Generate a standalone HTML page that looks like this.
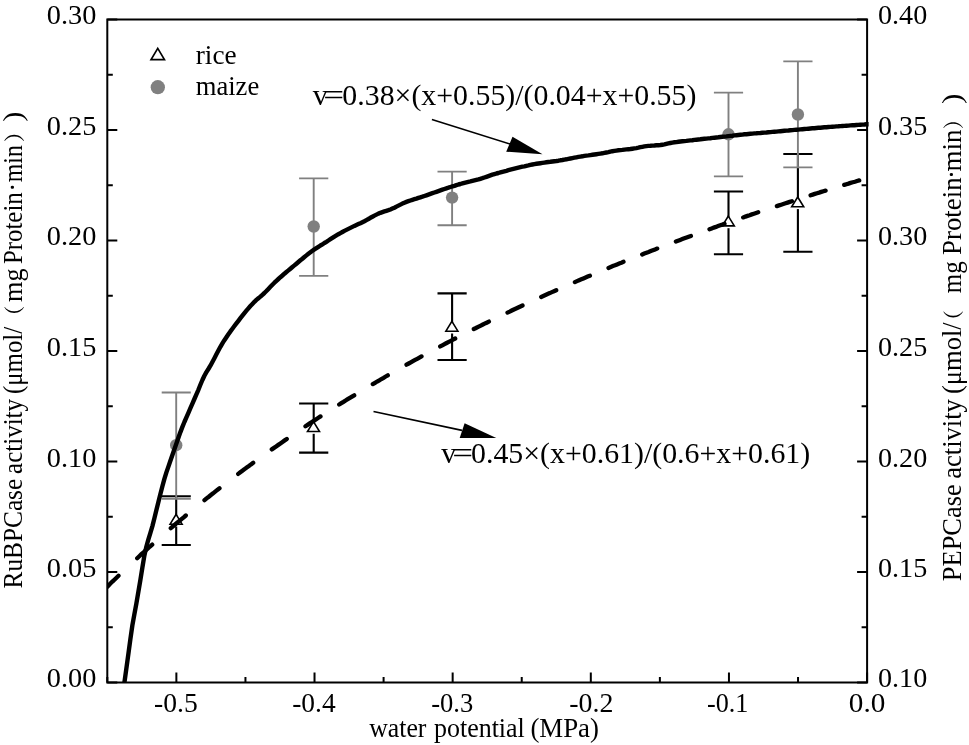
<!DOCTYPE html>
<html lang="en"><head><meta charset="utf-8"><title>Enzyme activity vs water potential</title>
<style>html,body{margin:0;padding:0;background:#fff}body{width:969px;height:745px;overflow:hidden}svg{display:block}text{font-family:"Liberation Serif","Noto Serif CJK SC",serif;fill:#000;font-kerning:none}</style>
</head><body>
<svg width="969" height="745" viewBox="0 0 969 745">
<rect width="969" height="745" fill="#fff"/>
<g stroke="#000" stroke-width="2.1" fill="none">
<path d="M176.2 496.2V545.0M161.7 496.2H190.8M161.7 545.0H190.8"/>
<path d="M313.7 403.5V452.6M299.1 403.5H328.3M299.1 452.6H328.3"/>
<path d="M452.1 293.4V360.0M437.5 293.4H466.7M437.5 360.0H466.7"/>
<path d="M728.5 191.5V254.3M713.9 191.5H743.1M713.9 254.3H743.1"/>
<path d="M797.9 154.0V251.8M783.3 154.0H812.5M783.3 251.8H812.5"/>
</g>
<rect x="172.2" y="516.9" width="8" height="9.6" fill="#fff"/>
<path d="M176.1 514.4 L182.1 524.2 L170.1 524.2 Z" fill="#fff" stroke="#000" stroke-width="1.6" stroke-linejoin="miter"/>
<rect x="309.7" y="424.2" width="8" height="9.6" fill="#fff"/>
<path d="M313.5 421.7 L319.5 431.5 L307.5 431.5 Z" fill="#fff" stroke="#000" stroke-width="1.6" stroke-linejoin="miter"/>
<rect x="448.1" y="323.9" width="8" height="9.6" fill="#fff"/>
<path d="M451.9 321.4 L457.9 331.2 L445.9 331.2 Z" fill="#fff" stroke="#000" stroke-width="1.6" stroke-linejoin="miter"/>
<rect x="724.5" y="218.6" width="8" height="9.6" fill="#fff"/>
<path d="M728.3 216.1 L734.3 225.9 L722.3 225.9 Z" fill="#fff" stroke="#000" stroke-width="1.6" stroke-linejoin="miter"/>
<rect x="793.9" y="199.5" width="8" height="9.6" fill="#fff"/>
<path d="M797.7 197.0 L803.7 206.8 L791.7 206.8 Z" fill="#fff" stroke="#000" stroke-width="1.6" stroke-linejoin="miter"/>
<g stroke="#808080" stroke-width="1.9" fill="none">
<path d="M176.2 392.5V498.8M161.7 392.5H190.8M161.7 498.8H190.8"/>
<path d="M313.7 178.4V275.9M299.1 178.4H328.3M299.1 275.9H328.3"/>
<path d="M452.1 171.6V225.2M437.5 171.6H466.7M437.5 225.2H466.7"/>
<path d="M728.5 92.6V176.4M713.9 92.6H743.1M713.9 176.4H743.1"/>
<path d="M797.9 61.4V167.4M783.3 61.4H812.5M783.3 167.4H812.5"/>
</g>
<circle cx="176.2" cy="445.2" r="6.2" fill="#808080"/>
<circle cx="313.7" cy="226.5" r="6.2" fill="#808080"/>
<circle cx="452.1" cy="197.6" r="6.2" fill="#808080"/>
<circle cx="728.5" cy="134.3" r="6.2" fill="#808080"/>
<circle cx="797.9" cy="114.5" r="6.2" fill="#808080"/>
<path d="M124.4 682.6 L126.4 668.2 L128.4 653.8 L130.4 639.0 L132.4 625.1 L134.4 614.1 L136.4 603.3 L138.4 591.7 L140.4 579.9 L142.4 567.4 L144.4 555.4 L146.4 546.5 L148.4 539.4 L150.4 532.9 L152.4 526.1 L154.4 518.3 L156.4 510.1 L158.4 501.9 L160.4 494.0 L162.4 486.2 L164.4 478.9 L166.4 472.4 L168.4 466.6 L170.4 460.8 L172.4 455.0 L174.4 449.3 L176.4 443.6 L178.4 437.7 L180.4 432.1 L182.4 426.9 L184.4 422.0 L186.4 417.4 L188.4 412.8 L190.4 408.2 L192.4 403.6 L194.4 399.0 L196.4 394.4 L198.4 389.8 L200.4 384.8 L202.4 380.0 L204.4 375.7 L206.4 372.1 L208.4 369.0 L210.4 365.7 L212.4 362.0 L214.4 358.2 L216.4 354.3 L218.4 350.5 L220.4 346.8 L222.4 343.4 L224.4 340.2 L226.4 337.2 L228.4 334.3 L230.4 331.4 L232.4 328.7 L234.4 326.0 L236.4 323.4 L238.4 320.8 L240.4 318.2 L242.4 315.6 L244.4 313.1 L246.4 310.7 L248.4 308.3 L250.4 306.0 L252.4 303.9 L254.4 301.8 L256.4 299.9 L258.4 298.2 L260.4 296.6 L262.4 294.8 L264.4 293.0 L266.4 291.0 L268.4 288.9 L270.4 286.8 L272.4 284.7 L274.4 282.7 L276.4 280.8 L278.4 279.0 L280.4 277.2 L282.4 275.5 L284.4 273.7 L286.4 272.0 L288.4 270.4 L290.4 268.7 L292.4 267.0 L294.4 265.4 L296.4 263.7 L298.4 262.0 L300.4 260.3 L302.4 258.7 L304.4 257.0 L306.4 255.4 L308.4 253.8 L310.4 252.3 L312.4 250.8 L314.4 249.4 L316.4 248.1 L318.4 246.8 L320.4 245.5 L322.4 244.3 L324.4 243.0 L326.4 241.8 L328.4 240.5 L330.4 239.2 L332.4 237.9 L334.4 236.6 L336.4 235.4 L338.4 234.2 L340.4 233.1 L342.4 232.0 L344.4 230.9 L346.4 229.9 L348.4 228.9 L350.4 227.9 L352.4 226.9 L354.4 225.9 L356.4 225.0 L358.4 224.1 L360.4 223.2 L362.4 222.2 L364.4 221.2 L366.4 220.1 L368.4 219.0 L370.4 217.8 L372.4 216.7 L374.4 215.6 L376.4 214.6 L378.4 213.6 L380.4 212.8 L382.4 212.1 L384.4 211.4 L386.4 210.8 L388.4 210.2 L390.4 209.5 L392.4 208.6 L394.4 207.7 L396.4 206.6 L398.4 205.6 L400.4 204.6 L402.4 203.6 L404.4 202.7 L406.4 201.9 L408.4 201.2 L410.4 200.5 L412.4 199.8 L414.4 199.2 L416.4 198.6 L418.4 197.9 L420.4 197.3 L422.4 196.7 L424.4 196.0 L426.4 195.3 L428.4 194.6 L430.4 193.9 L432.4 193.2 L434.4 192.5 L436.4 191.8 L438.4 191.1 L440.4 190.4 L442.4 189.7 L444.4 189.0 L446.4 188.3 L448.4 187.7 L450.4 187.0 L452.4 186.4 L454.4 185.8 L456.4 185.1 L458.4 184.5 L460.4 184.0 L462.4 183.4 L464.4 182.8 L466.4 182.3 L468.4 181.8 L470.4 181.4 L472.4 180.9 L474.4 180.4 L476.4 179.9 L478.4 179.4 L480.4 178.8 L482.4 178.2 L484.4 177.5 L486.4 176.8 L488.4 176.1 L490.4 175.4 L492.4 174.7 L494.4 174.1 L496.4 173.5 L498.4 173.0 L500.4 172.4 L502.4 171.8 L504.4 171.3 L506.4 170.8 L508.4 170.2 L510.4 169.7 L512.4 169.2 L514.4 168.7 L516.4 168.2 L518.4 167.7 L520.4 167.2 L522.4 166.7 L524.4 166.3 L526.4 165.8 L528.4 165.4 L530.4 164.9 L532.4 164.5 L534.4 164.1 L536.4 163.8 L538.4 163.5 L540.4 163.2 L542.4 162.9 L544.4 162.6 L546.4 162.3 L548.4 162.0 L550.4 161.8 L552.4 161.5 L554.4 161.2 L556.4 161.0 L558.4 160.7 L560.4 160.3 L562.4 160.0 L564.4 159.6 L566.4 159.3 L568.4 158.9 L570.4 158.5 L572.4 158.1 L574.4 157.7 L576.4 157.3 L578.4 156.9 L580.4 156.6 L582.4 156.3 L584.4 155.9 L586.4 155.6 L588.4 155.4 L590.4 155.1 L592.4 154.8 L594.4 154.5 L596.4 154.2 L598.4 153.9 L600.4 153.6 L602.4 153.3 L604.4 152.9 L606.4 152.5 L608.4 152.1 L610.4 151.6 L612.4 151.2 L614.4 150.9 L616.4 150.6 L618.4 150.3 L620.4 150.1 L622.4 149.9 L624.4 149.6 L626.4 149.4 L628.4 149.2 L630.4 149.0 L632.4 148.7 L634.4 148.4 L636.4 148.1 L638.4 147.7 L640.4 147.2 L642.4 146.8 L644.4 146.4 L646.4 146.1 L648.4 145.9 L650.4 145.8 L652.4 145.6 L654.4 145.5 L656.4 145.3 L658.4 145.2 L660.4 145.0 L662.4 144.7 L664.4 144.4 L666.4 143.9 L668.4 143.4 L670.4 143.0 L672.4 142.6 L674.4 142.3 L676.4 142.1 L678.4 141.8 L680.4 141.5 L682.4 141.3 L684.4 141.1 L686.4 140.9 L688.4 140.6 L690.4 140.4 L692.4 140.2 L694.4 139.9 L696.4 139.7 L698.4 139.5 L700.4 139.3 L702.4 139.0 L704.4 138.8 L706.4 138.6 L708.4 138.4 L710.4 138.2 L712.4 137.9 L714.4 137.7 L716.4 137.5 L718.4 137.3 L720.4 137.0 L722.4 136.8 L724.4 136.6 L726.4 136.4 L728.4 136.1 L730.4 135.9 L732.4 135.7 L734.4 135.4 L736.4 135.2 L738.4 135.0 L740.4 134.8 L742.4 134.6 L744.4 134.3 L746.4 134.2 L748.4 134.0 L750.4 133.8 L752.4 133.6 L754.4 133.4 L756.4 133.3 L758.4 133.1 L760.4 133.0 L762.4 132.8 L764.4 132.6 L766.4 132.5 L768.4 132.3 L770.4 132.1 L772.4 131.9 L774.4 131.7 L776.4 131.6 L778.4 131.4 L780.4 131.2 L782.4 131.0 L784.4 130.8 L786.4 130.6 L788.4 130.5 L790.4 130.3 L792.4 130.1 L794.4 129.9 L796.4 129.7 L798.4 129.6 L800.4 129.4 L802.4 129.2 L804.4 129.0 L806.4 128.9 L808.4 128.7 L810.4 128.5 L812.4 128.3 L814.4 128.2 L816.4 128.0 L818.4 127.8 L820.4 127.7 L822.4 127.5 L824.4 127.3 L826.4 127.2 L828.4 127.0 L830.4 126.9 L832.4 126.7 L834.4 126.6 L836.4 126.4 L838.4 126.3 L840.4 126.1 L842.4 126.0 L844.4 125.9 L846.4 125.7 L848.4 125.6 L850.4 125.4 L852.4 125.3 L854.4 125.2 L856.4 125.0 L858.4 124.9 L860.4 124.7 L862.4 124.6 L864.4 124.5 L866.4 124.3 L868.4 124.2 L868.6 124.2" fill="none" stroke="#000" stroke-width="4.4" stroke-linejoin="round"/>
<clipPath id="pc"><rect x="107.3" y="19.5" width="761.8000000000001" height="663.1"/></clipPath>
<path d="M104.3 589.6 L106.3 587.6 L108.4 585.6 L110.4 583.6 L112.4 581.6 L114.4 579.7 L116.5 577.7 L118.5 575.8 M137.2 558.2 L139.3 556.2 L141.4 554.2 L143.6 552.3 L145.7 550.3 L147.9 548.4 L150.0 546.5 L152.2 544.6 M170.8 528.2 L173.0 526.3 L175.1 524.5 L177.2 522.7 L179.4 520.9 L181.5 519.1 L183.7 517.3 L185.8 515.5 M204.5 500.2 L206.6 498.4 L208.8 496.7 L210.9 495.0 L213.1 493.3 L215.2 491.6 L217.3 489.9 L219.5 488.3 M238.2 473.9 L240.3 472.3 L242.4 470.7 L244.6 469.1 L246.7 467.5 L248.9 466.0 L251.0 464.4 L253.2 462.8 M271.8 449.4 L274.0 447.9 L276.1 446.4 L278.3 444.9 L280.4 443.4 L282.5 441.9 L284.7 440.4 L286.8 438.9 M305.5 426.3 L307.6 424.9 L309.8 423.4 L311.9 422.0 L314.1 420.6 L316.2 419.2 L318.4 417.8 L320.5 416.4 M339.2 404.5 L341.3 403.2 L343.5 401.9 L345.6 400.5 L347.7 399.2 L349.9 397.9 L352.0 396.6 L354.2 395.3 M372.8 384.1 L375.0 382.8 L377.1 381.5 L379.3 380.3 L381.4 379.0 L383.6 377.8 L385.7 376.5 L387.8 375.3 M406.5 364.7 L408.7 363.5 L410.8 362.3 L412.9 361.1 L415.1 359.9 L417.2 358.8 L419.4 357.6 L421.5 356.4 M440.2 346.4 L442.3 345.3 L444.5 344.1 L446.6 343.0 L448.8 341.9 L450.9 340.8 L453.0 339.7 L455.2 338.5 M473.8 329.0 L476.0 328.0 L478.1 326.9 L480.3 325.8 L482.4 324.8 L484.6 323.7 L486.7 322.7 L488.9 321.6 M507.5 312.6 L509.7 311.6 L511.8 310.5 L513.9 309.5 L516.1 308.5 L518.2 307.5 L520.4 306.5 L522.5 305.5 M541.2 296.9 L543.3 296.0 L545.5 295.0 L547.6 294.0 L549.8 293.1 L551.9 292.1 L554.0 291.2 L556.2 290.2 M574.9 282.1 L577.0 281.1 L579.1 280.2 L581.3 279.3 L583.4 278.4 L585.6 277.5 L587.7 276.6 L589.9 275.7 M608.5 267.9 L610.7 267.0 L612.8 266.1 L615.0 265.3 L617.1 264.4 L619.2 263.5 L621.4 262.7 L623.5 261.8 M642.2 254.4 L644.3 253.5 L646.5 252.7 L648.6 251.9 L650.8 251.0 L652.9 250.2 L655.1 249.4 L657.2 248.6 M675.9 241.5 L678.0 240.7 L680.2 239.9 L682.3 239.1 L684.4 238.3 L686.6 237.5 L688.7 236.7 L690.9 235.9 M709.5 229.2 L711.7 228.4 L713.8 227.6 L716.0 226.9 L718.1 226.1 L720.3 225.3 L722.4 224.6 L724.5 223.8 M743.2 217.4 L745.4 216.6 L747.5 215.9 L749.6 215.2 L751.8 214.4 L753.9 213.7 L756.1 213.0 L758.2 212.3 M776.9 206.1 L779.0 205.4 L781.2 204.7 L783.3 204.0 L785.5 203.3 L787.6 202.6 L789.7 201.9 L791.9 201.2 M810.6 195.3 L812.7 194.6 L814.8 193.9 L817.0 193.2 L819.1 192.6 L821.3 191.9 L823.4 191.2 L825.6 190.6 M844.2 184.9 L846.4 184.2 L848.5 183.6 L850.6 182.9 L852.8 182.3 L854.9 181.7 L857.1 181.0 L859.2 180.4" fill="none" stroke="#000" stroke-width="4.3" stroke-linecap="round" clip-path="url(#pc)"/>
<g stroke="#000" stroke-width="2.0" fill="none" stroke-linecap="butt">
<path d="M107.3 18.5V682.6H867.1V19.5H106.3" stroke-linejoin="miter"/>
<path d="M107.3 682.60h10M867.1 682.60h-10M107.3 627.34h5.5M867.1 627.34h-5.5M107.3 572.08h10M867.1 572.08h-10M107.3 516.83h5.5M867.1 516.83h-5.5M107.3 461.57h10M867.1 461.57h-10M107.3 406.31h5.5M867.1 406.31h-5.5M107.3 351.05h10M867.1 351.05h-10M107.3 295.79h5.5M867.1 295.79h-5.5M107.3 240.53h10M867.1 240.53h-10M107.3 185.27h5.5M867.1 185.27h-5.5M107.3 130.02h10M867.1 130.02h-10M107.3 74.76h5.5M867.1 74.76h-5.5M107.3 19.50h10M867.1 19.50h-10M867.10 682.6v-10M798.03 682.6v-5.5M728.95 682.6v-10M659.88 682.6v-5.5M590.81 682.6v-10M521.74 682.6v-5.5M452.66 682.6v-10M383.59 682.6v-5.5M314.52 682.6v-10M245.45 682.6v-5.5M176.37 682.6v-10M107.30 682.6v-5.5"/>
</g>
<g font-size="26.5">
<text x="46.82" y="686.9" textLength="49.56" lengthAdjust="spacingAndGlyphs">0.00</text>
<text x="46.82" y="576.9" textLength="49.56" lengthAdjust="spacingAndGlyphs">0.05</text>
<text x="46.82" y="467.2" textLength="49.56" lengthAdjust="spacingAndGlyphs">0.10</text>
<text x="46.82" y="355.9" textLength="49.56" lengthAdjust="spacingAndGlyphs">0.15</text>
<text x="46.82" y="245.3" textLength="49.56" lengthAdjust="spacingAndGlyphs">0.20</text>
<text x="46.82" y="134.8" textLength="49.56" lengthAdjust="spacingAndGlyphs">0.25</text>
<text x="46.82" y="24.1" textLength="49.56" lengthAdjust="spacingAndGlyphs">0.30</text>
<text x="878.03" y="686.9" textLength="49.24" lengthAdjust="spacingAndGlyphs">0.10</text>
<text x="878.03" y="576.9" textLength="49.24" lengthAdjust="spacingAndGlyphs">0.15</text>
<text x="878.03" y="467.2" textLength="49.24" lengthAdjust="spacingAndGlyphs">0.20</text>
<text x="878.03" y="355.9" textLength="49.24" lengthAdjust="spacingAndGlyphs">0.25</text>
<text x="878.03" y="245.3" textLength="49.24" lengthAdjust="spacingAndGlyphs">0.30</text>
<text x="878.03" y="134.8" textLength="49.24" lengthAdjust="spacingAndGlyphs">0.35</text>
<text x="878.03" y="24.1" textLength="49.24" lengthAdjust="spacingAndGlyphs">0.40</text>
<text x="848.79" y="712.2" textLength="36.53" lengthAdjust="spacingAndGlyphs">0.0</text>
<text x="706.93" y="712.2" textLength="41.44" lengthAdjust="spacingAndGlyphs">-0.1</text>
<text x="569.16" y="712.2" textLength="44.18" lengthAdjust="spacingAndGlyphs">-0.2</text>
<text x="431.21" y="712.2" textLength="42.02" lengthAdjust="spacingAndGlyphs">-0.3</text>
<text x="292.18" y="712.2" textLength="43.45" lengthAdjust="spacingAndGlyphs">-0.4</text>
<text x="154.08" y="712.2" textLength="43.70" lengthAdjust="spacingAndGlyphs">-0.5</text>
</g>
<text font-size="27.3" y="737"><tspan x="369.17" textLength="57.25" lengthAdjust="spacingAndGlyphs">water</tspan> <tspan x="433.98" textLength="90.84" lengthAdjust="spacingAndGlyphs">potential</tspan> <tspan x="530.42" textLength="68.56" lengthAdjust="spacingAndGlyphs">(MPa)</tspan></text>
<text font-size="27.3" transform="translate(22 0) rotate(-90)"><tspan x="-588.43" textLength="109.61" lengthAdjust="spacingAndGlyphs">RuBPCase</tspan> <tspan x="-473.88" textLength="74.88" lengthAdjust="spacingAndGlyphs">activity</tspan> <tspan x="-393.99" textLength="67.09" lengthAdjust="spacingAndGlyphs">(μmol/</tspan> <tspan x="-326.13" textLength="20.63" lengthAdjust="spacingAndGlyphs" font-size="20.9" font-weight="600">（</tspan> <tspan x="-301.95" textLength="33.45" lengthAdjust="spacingAndGlyphs">mg</tspan> <tspan x="-264.12" textLength="71.89" lengthAdjust="spacingAndGlyphs">Protein</tspan> <tspan x="-191.71" textLength="9.02" lengthAdjust="spacingAndGlyphs">·</tspan> <tspan x="-182.30" textLength="37.16" lengthAdjust="spacingAndGlyphs">min</tspan> <tspan x="-142.32" textLength="20.98" lengthAdjust="spacingAndGlyphs" font-size="20.9" font-weight="600">）</tspan> <tspan x="-121.78" textLength="10.11" lengthAdjust="spacingAndGlyphs">)</tspan></text>
<text font-size="27.3" transform="translate(960.8 0) rotate(-90)"><tspan x="-581.16" textLength="96.88" lengthAdjust="spacingAndGlyphs">PEPCase</tspan> <tspan x="-478.73" textLength="79.54" lengthAdjust="spacingAndGlyphs">activity</tspan> <tspan x="-394.07" textLength="71.77" lengthAdjust="spacingAndGlyphs">(μmol/</tspan> <tspan x="-330.83" textLength="20.63" lengthAdjust="spacingAndGlyphs" font-size="20.9" font-weight="600">（</tspan> <tspan x="-293.23" textLength="32.00" lengthAdjust="spacingAndGlyphs">mg</tspan> <tspan x="-254.97" textLength="77.58" lengthAdjust="spacingAndGlyphs">Protein</tspan> <tspan x="-179.11" textLength="9.02" lengthAdjust="spacingAndGlyphs">·</tspan> <tspan x="-171.57" textLength="42.08" lengthAdjust="spacingAndGlyphs">min</tspan> <tspan x="-129.16" textLength="19.93" lengthAdjust="spacingAndGlyphs" font-size="20.9" font-weight="600">）</tspan> <tspan x="-103.92" textLength="10.50" lengthAdjust="spacingAndGlyphs">)</tspan></text>
<path d="M157.75 48.35 L164.45 59.65 L151.05 59.65 Z" fill="#fff" stroke="#000" stroke-width="1.7"/>
<circle cx="157.8" cy="87.2" r="7.15" fill="#808080"/>
<text font-size="27.5" y="63.7"><tspan x="195.75" textLength="40.89" lengthAdjust="spacingAndGlyphs">rice</tspan></text>
<text font-size="27.5" y="94.9"><tspan x="195.74" textLength="63.48" lengthAdjust="spacingAndGlyphs">maize</tspan></text>
<text font-size="30" y="105"><tspan x="312.70" textLength="15.00" lengthAdjust="spacingAndGlyphs">v</tspan><tspan x="323.36" textLength="20.85" lengthAdjust="spacingAndGlyphs">=</tspan><tspan x="342.36" textLength="354.05" lengthAdjust="spacingAndGlyphs">0.38×(x+0.55)/(0.04+x+0.55)</tspan></text>
<text font-size="30" y="462.9"><tspan x="441.30" textLength="15.00" lengthAdjust="spacingAndGlyphs">v</tspan><tspan x="452.36" textLength="20.85" lengthAdjust="spacingAndGlyphs">=</tspan><tspan x="471.06" textLength="339.15" lengthAdjust="spacingAndGlyphs">0.45×(x+0.61)/(0.6+x+0.61)</tspan></text>
<g stroke="#000" stroke-width="1.6" fill="#000">
<path d="M431.9 119.5 L510 144" fill="none"/><path d="M542.5 154.2 L512.5 136.7 L506.2 151.7 Z" stroke="none"/>
<path d="M373.5 411.5 L462 430.4" fill="none"/><path d="M496.3 437.9 L464.6 423.2 L459.7 437.9 Z" stroke="none"/>
</g>
</svg></body></html>
